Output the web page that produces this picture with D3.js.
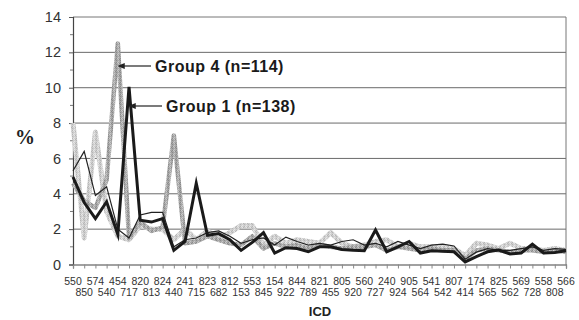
<!DOCTYPE html>
<html>
<head>
<meta charset="utf-8">
<script src="https://cdn.jsdelivr.net/npm/d3@7"></script>
<style>
  body { margin: 0; background: #fff; }
  svg { display: block; }
</style>
</head>
<body>
<svg id="chart" width="579" height="320"></svg>
<script>
// ICD codes along the x axis (alternating top/bottom rows)
const categories = ["550","850","574","540","454","717","820","813","824","440","241","715","823","682","812","153","553","845","154","922","844","789","821","455","805","920","560","727","240","924","905","564","541","542","807","414","174","565","825","562","569","728","558","808","566"];

// Percent of diagnoses per ICD code, one array per group
const group1 = [4.95,3.5,2.6,3.55,1.7,10.05,2.5,2.4,2.6,0.8,1.3,4.6,1.65,1.75,1.4,0.8,1.25,1.8,0.65,0.95,0.9,0.72,1.0,1.0,0.85,0.8,0.78,1.95,0.72,1.0,1.3,0.65,0.78,0.75,0.72,0.15,0.45,0.72,0.82,0.6,0.65,1.15,0.65,0.68,0.78];
const group2 = [5.3,6.4,3.9,4.4,2.0,1.5,2.8,2.95,2.95,1.0,1.4,1.5,1.8,1.9,1.6,1.2,1.4,1.5,1.1,1.55,1.3,1.1,1.2,1.1,1.3,1.4,1.1,1.2,1.0,1.3,1.1,0.9,1.1,1.15,1.05,0.3,0.7,0.9,0.8,0.8,0.9,1.0,0.8,0.9,0.85];
const group3 = [8.0,1.5,7.5,3.0,1.6,1.4,2.2,2.0,2.0,1.4,2.0,1.4,1.9,1.5,1.8,2.2,2.2,1.1,1.6,1.2,1.4,1.3,1.2,1.8,1.2,1.0,1.1,1.3,1.4,1.0,1.2,1.0,1.0,1.0,0.9,0.5,1.2,1.1,0.9,1.2,0.9,0.9,0.8,0.9,0.8];
const group4 = [4.6,3.6,3.2,4.8,12.5,1.5,2.4,1.9,2.1,7.3,1.2,1.3,1.6,1.4,1.2,1.1,1.6,0.9,1.2,1.0,1.1,0.9,1.1,1.0,0.9,1.0,1.0,1.1,0.8,1.0,0.9,0.8,0.9,0.8,0.8,0.3,0.8,0.9,0.8,0.7,0.8,0.8,0.7,0.8,0.7];

const yTicks = [0, 2, 4, 6, 8, 10, 12, 14];

const svg = d3.select("#chart");
const plotLeft = 73, plotRight = 566, plotTop = 17, plotBottom = 264.5;

const x = d3.scalePoint().domain(categories).range([plotLeft, plotRight]).padding(0);
const y = d3.scaleLinear().domain([0, 14]).range([plotBottom, plotTop]);

// Speckled stroke textures for the grey series
const defs = svg.append("defs");
function speckle(id, base, dark, light) {
  const p = defs.append("pattern").attr("id", id)
    .attr("patternUnits", "userSpaceOnUse").attr("width", 4).attr("height", 4);
  p.append("rect").attr("width", 4).attr("height", 4).attr("fill", base);
  [[0,0,dark],[2,1,light],[1,2,light],[3,3,dark],[2,3,light],[0,2,dark]].forEach(([a,b,c]) =>
    p.append("rect").attr("x", a).attr("y", b).attr("width", 1).attr("height", 1).attr("fill", c));
}
speckle("sp3", "#cfcfcf", "#b5b5b5", "#e6e6e6");
speckle("sp4", "#a8a8a8", "#8a8a8a", "#c8c8c8");

// Gridlines
svg.append("g").selectAll("line").data(yTicks.filter(d => d > 0 && d < 14)).join("line")
  .attr("x1", plotLeft).attr("x2", plotRight).attr("y1", d => y(d)).attr("y2", d => y(d))
  .attr("stroke", "#6a6a6a").attr("stroke-width", 1);

// Plot frame (top and right)
svg.append("path")
  .attr("d", `M${plotLeft},${y(14)}H${plotRight}V${plotBottom}`)
  .attr("fill", "none").attr("stroke", "#777").attr("stroke-width", 1);

// Y axis
const yAxis = d3.axisLeft(y).tickValues(yTicks).tickSize(4).tickPadding(8).tickFormat(d3.format("d"));
const gy = svg.append("g").attr("transform", `translate(${plotLeft},0)`).call(yAxis);
gy.select(".domain").attr("stroke", "#444").attr("stroke-width", 1.2);
gy.selectAll(".tick line").attr("stroke", "#555");
gy.selectAll(".tick text").attr("font-family", "Arial, 'Liberation Sans', sans-serif")
  .attr("font-size", 14.5).attr("fill", "#333");
// minor ticks at odd values
svg.append("g").selectAll("line").data(d3.range(1, 14, 2)).join("line")
  .attr("x1", plotLeft - 3).attr("x2", plotLeft).attr("y1", d => y(d)).attr("y2", d => y(d))
  .attr("stroke", "#777");

// X axis with two alternating label rows
const xAxis = d3.axisBottom(x).tickSize(4).tickFormat("");
const gx = svg.append("g").attr("transform", `translate(0,${plotBottom})`).call(xAxis);
gx.select(".domain").attr("stroke", "#444").attr("stroke-width", 1.2);
gx.selectAll(".tick line").attr("stroke", "#888");
svg.append("g").selectAll("text").data(categories).join("text")
  .attr("x", d => x(d))
  .attr("y", (d, i) => i % 2 === 0 ? 284.5 : 296)
  .attr("text-anchor", "middle")
  .attr("font-family", "Arial, 'Liberation Sans', sans-serif")
  .attr("font-size", 10.5).attr("fill", "#333")
  .text(d => d);

// Axis titles
svg.append("text").attr("x", 320).attr("y", 316).attr("text-anchor", "middle")
  .attr("font-family", "Arial, 'Liberation Sans', sans-serif").attr("font-weight", "bold")
  .attr("font-size", 13).attr("fill", "#222").text("ICD");
svg.append("text").attr("x", 25).attr("y", 144).attr("text-anchor", "middle")
  .attr("font-family", "'Liberation Serif', 'Times New Roman', serif").attr("font-weight", "bold")
  .attr("font-size", 20).attr("fill", "#222").text("%");

// Series lines
const line = d3.line().x((d, i) => x(categories[i])).y(d => y(d));
const series = [
  { values: group3, stroke: "url(#sp3)", width: 5, join: "round" },
  { values: group4, stroke: "url(#sp4)", width: 4.5, join: "round" },
  { values: group2, stroke: "#222", width: 1.2, join: "miter" },
  { values: group1, stroke: "#1a1a1a", width: 3, join: "miter" }
];
svg.append("g").selectAll("path").data(series).join("path")
  .attr("d", d => line(d.values))
  .attr("fill", "none")
  .attr("stroke", d => d.stroke)
  .attr("stroke-width", d => d.width)
  .attr("stroke-linejoin", d => d.join)
  .attr("stroke-miterlimit", 10);

// Annotations
defs.append("marker").attr("id", "arr").attr("viewBox", "0 0 10 10")
  .attr("refX", 1).attr("refY", 5).attr("markerWidth", 6).attr("markerHeight", 6)
  .attr("orient", "auto")
  .append("path").attr("d", "M0,1 L10,5 L0,9 Z").attr("fill", "#222");

const notes = [
  { label: "Group 4 (n=114)", tx: 155, ty: 66, ax0: 151, ax1: 124 },
  { label: "Group 1 (n=138)", tx: 166, ty: 106, ax0: 162, ax1: 135 }
];
notes.forEach(n => {
  svg.append("line").attr("x1", n.ax0).attr("x2", n.ax1).attr("y1", n.ty).attr("y2", n.ty)
    .attr("stroke", "#222").attr("stroke-width", 1.2).attr("marker-end", "url(#arr)");
  svg.append("text").attr("x", n.tx).attr("y", n.ty + 5.5)
    .attr("font-family", "Arial, 'Liberation Sans', sans-serif").attr("font-weight", "bold")
    .attr("font-size", 16).attr("letter-spacing", 0.5).attr("fill", "#1a1a1a").text(n.label);
});
</script>
</body>
</html>
